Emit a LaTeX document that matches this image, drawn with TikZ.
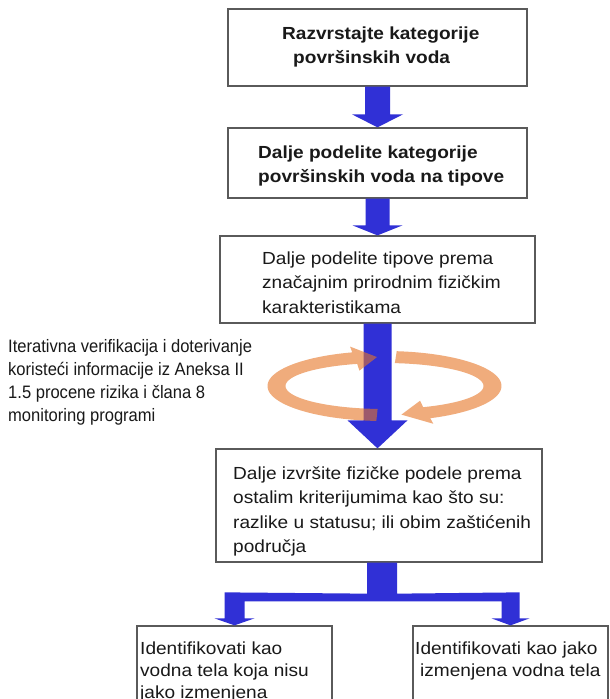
\documentclass[tikz,border=0pt]{standalone}
\usepackage{fontspec}
\setmainfont{Liberation Sans}
\newfontfamily\boxfont{Liberation Sans}[FakeStretch=1.09]
\newfontfamily\notefont{Liberation Sans}[FakeStretch=0.92]
\usetikzlibrary{calc}
\definecolor{arrowblue}{RGB}{48,48,214}
\definecolor{boxgray}{RGB}{90,90,90}
\definecolor{ringorange}{RGB}{230,117,38}
\definecolor{inkgray}{RGB}{25,25,25}

% block arrow: #1 start, #2 tip, #3 shaft half width, #4 head half width, #5 head length
\newcommand\blockarrow[5]{%
  \fill[arrowfill] ($(#1)+(-#3,0)$) -- ($(#2)+(-#3,-#5)$) -- ($(#2)+(-#4,-#5)$)
    -- (#2) -- ($(#2)+(#4,-#5)$) -- ($(#2)+(#3,-#5)$) -- ($(#1)+(#3,0)$) -- cycle;}

\begin{document}
\begin{tikzpicture}[x=1pt,y=-1pt,
  box/.style={draw=boxgray, line width=1.3pt, fill=white, rectangle, inner sep=0pt},
  txt/.style={inner sep=0pt, anchor=base west, text=inkgray,
    font=\boxfont\fontsize{17.5}{24.5}\selectfont},
  lowtxt/.style={txt, font=\boxfont\fontsize{17.5}{22}\selectfont},
  note/.style={inner sep=0pt, anchor=base west, text=inkgray,
    font=\notefont\fontsize{18}{23}\selectfont},
  arrowfill/.style={fill=arrowblue},
  ringfill/.style={fill=ringorange, fill opacity=0.6}]
\useasboundingbox (0,0) rectangle (610,699);
\fill[white] (0,0) rectangle (610,699);
\clip (0,0) rectangle (610,699);

% boxes
\node[box, minimum width=299pt, minimum height=77pt] (b1) at (377.5,47.5) {};
\node[box, minimum width=299pt, minimum height=70pt] (b2) at (377.5,163) {};
\node[box, minimum width=315pt, minimum height=87pt] (b3) at (377.5,279.5) {};
\node[box, minimum width=326pt, minimum height=113pt] (b4) at (379,505.5) {};
\node[box, minimum width=195pt, minimum height=134pt] (bl) at (234.5,693) {};
\node[box, minimum width=195pt, minimum height=134pt] (br) at (510.5,693) {};

% box texts
\node[txt] (t1) at (282,39) {\bfseries\begin{tabular}[t]{@{}l@{}}Razvrstajte kategorije\\\hspace*{11pt}površinskih voda\end{tabular}};
\node[txt] (t2) at (258,158) {\bfseries\begin{tabular}[t]{@{}l@{}}Dalje podelite kategorije\\površinskih voda na tipove\end{tabular}};
\node[txt] (t3) at (262,264) {\begin{tabular}[t]{@{}l@{}}Dalje podelite tipove prema\\značajnim prirodnim fizičkim\\karakteristikama\end{tabular}};
\node[txt] (t4) at (233,479) {\begin{tabular}[t]{@{}l@{}}Dalje izvršite fizičke podele prema\\ostalim kriterijumima kao što su:\\razlike u statusu; ili obim zaštićenih\\područja\end{tabular}};
\node[lowtxt] (tl) at (140,654) {\begin{tabular}[t]{@{}l@{}}Identifikovati kao\\vodna tela koja nisu\\jako izmenjena\end{tabular}};
\node[lowtxt] (tr) at (415,654) {\begin{tabular}[t]{@{}l@{}}Identifikovati kao jako\\\hspace*{5pt}izmenjena vodna tela\end{tabular}};

% side note
\node[note] (n1) at (8,352) {\begin{tabular}[t]{@{}l@{}}Iterativna verifikacija i doterivanje\\koristeći informacije iz Aneksa II\\1.5 procene rizika i člana 8\\monitoring programi\end{tabular}};

% vertical block arrows
\coordinate (a1) at (b1.south |- b2.north);
\coordinate (a2) at (b2.south |- b3.north);
\coordinate (a3) at (b3.south |- b4.north);
\blockarrow{b1.south}{a1}{12.5}{25.5}{13}
\blockarrow{b2.south}{a2}{12}{25}{10}
\blockarrow{b3.south}{a3}{14}{30}{28}

% split connector to the two lower boxes
\coordinate (jn) at ($(b4.south)+(3,0)$);
\coordinate (ly) at (bl.north);
\coordinate (ry) at (br.north);
\fill[arrowfill] ($(jn)+(-15,0)$) -- ($(jn)+(-15,31)$) -- ($(ly)+(-10,-33)$)
  -- ($(ly)+(-10,-7)$) -- ($(ly)+(-20,-7)$) -- (ly) -- ($(ly)+(20,-7)$)
  -- ($(ly)+(10,-7)$) -- ($(ly)+(10,-24)$) -- ($(ry)+(-9,-24)$)
  -- ($(ry)+(-9,-7)$) -- ($(ry)+(-19,-7)$) -- (ry) -- ($(ry)+(19,-7)$)
  -- ($(ry)+(9,-7)$) -- ($(ry)+(9,-33)$) -- ($(jn)+(15,31)$) -- ($(jn)+(15,0)$) -- cycle;

% circular iteration arrows around the middle shaft
\def\cx{384.5}\def\cy{386}
\fill[ringfill] plot[domain=266:106, samples=60] ({\cx+117*cos(\x)},{\cy-35*sin(\x)})
  -- ({\cx+125*cos(106)},{\cy-41*sin(106)})
  -- ({\cx+108*cos(94)},{\cy-29*sin(94)})
  -- ({\cx+91*cos(106)},{\cy-16*sin(106)})
  -- plot[domain=106:266, samples=60] ({\cx+99*cos(\x)},{\cy-23*sin(\x)})
  -- cycle;
\fill[ringfill] plot[domain=84:-67, samples=60] ({\cx+117*cos(\x)},{\cy-35*sin(\x)})
  -- ({\cx+125*cos(-67)},{\cy-41*sin(-67)})
  -- ({\cx+108*cos(-81)},{\cy-29*sin(-81)})
  -- ({\cx+91*cos(-67)},{\cy-16*sin(-67)})
  -- plot[domain=-67:84, samples=60] ({\cx+99*cos(\x)},{\cy-23*sin(\x)})
  -- cycle;
\end{tikzpicture}
\end{document}
